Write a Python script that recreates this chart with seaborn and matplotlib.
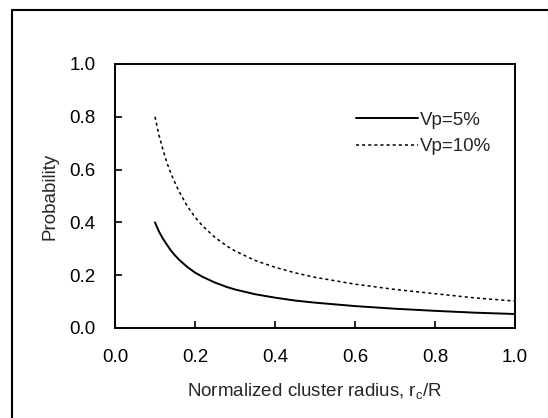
import pandas as pd
import matplotlib.pyplot as plt
import seaborn as sns

# values
radius = [0.10, 0.11, 0.12, 0.13, 0.14, 0.15, 0.16, 0.18, 0.20, 0.22, 0.25,
          0.28, 0.30, 0.35, 0.40, 0.45, 0.50, 0.60, 0.70, 0.80, 0.90, 1.00]
prob_vp5 = [0.400, 0.365, 0.338, 0.315, 0.293, 0.275, 0.259, 0.232, 0.210, 0.193, 0.172,
            0.155, 0.146, 0.128, 0.115, 0.104, 0.096, 0.083, 0.073, 0.065, 0.058, 0.053]
prob_vp10 = [0.800, 0.730, 0.675, 0.625, 0.585, 0.550, 0.518, 0.463, 0.420, 0.385, 0.343,
             0.310, 0.292, 0.256, 0.230, 0.209, 0.192, 0.166, 0.146, 0.130, 0.114, 0.102]
labels = ["Vp=5%", "Vp=10%"]
ticks = [0.0, 0.2, 0.4, 0.6, 0.8, 1.0]

df = pd.concat([
    pd.DataFrame({"r": radius, "p": prob_vp5, "series": labels[0]}),
    pd.DataFrame({"r": radius, "p": prob_vp10, "series": labels[1]}),
])

sns.set_style("ticks")
plt.rcParams["font.family"] = ["Liberation Sans", "DejaVu Sans"]
fs = 13.5

fig = plt.figure(figsize=(5.48, 4.18), dpi=100)
ax = fig.add_axes([115 / 548, 1 - 328 / 418, 400 / 548, 264 / 418])

sns.lineplot(data=df, x="r", y="p", hue="series", style="series",
             palette=["black", "black"], dashes={labels[0]: "", labels[1]: (2, 2)},
             linewidth=1.4, ax=ax)
# dotted curve is a bit finer in the original
ax.lines[1].set_linewidth(1.1)

ax.set_xlim(0, 1)
ax.set_ylim(0, 1)
ax.set_xticks(ticks)
ax.set_yticks(ticks)
ax.set_xticklabels([f"{t:.1f}" for t in ticks])
ax.set_yticklabels([f"{t:.1f}" for t in ticks])
ax.tick_params(axis="x", direction="in", length=5, width=1.2, pad=15, labelsize=fs, colors="black")
ax.tick_params(axis="y", direction="in", length=5, width=1.2, pad=14, labelsize=fs, colors="black")
for s in ax.spines.values():
    s.set_linewidth(1.4)
    s.set_color("black")

ax.set_xlabel(r"Normalized cluster radius, $\mathregular{r_c}$/R", fontsize=fs, labelpad=11)
ax.set_ylabel("Probability", fontsize=fs, labelpad=8)

leg = ax.legend(frameon=False, loc="upper right", bbox_to_anchor=(0.94, 0.82),
                fontsize=fs, handlelength=3.3, handletextpad=0.1, labelspacing=0.5,
                borderaxespad=0, borderpad=0)
leg.get_lines()[1].set_linewidth(1.1)

# outer frame of the scanned figure (left and top edges)
fig.add_artist(plt.Line2D([12 / 548, 12 / 548], [0, 1 - 10 / 418], color="black", lw=1.5))
fig.add_artist(plt.Line2D([12 / 548, 1], [1 - 10 / 418, 1 - 10 / 418], color="black", lw=1.5))

fig.savefig("out.png", dpi=100)
